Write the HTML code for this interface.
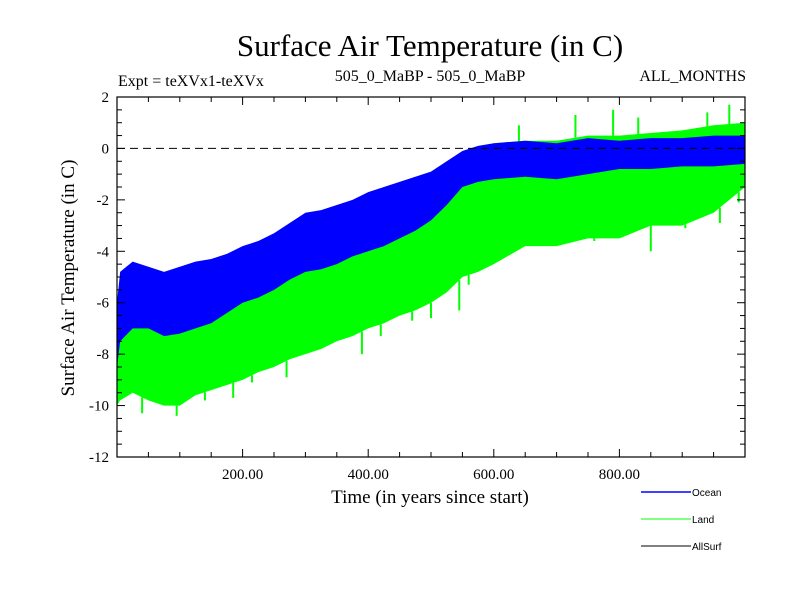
<!DOCTYPE html>
<html><head><meta charset="utf-8"><style>
body{margin:0;background:#fff;}
svg text{font-family:"Liberation Serif",serif;}
</style></head><body>
<svg id="c" width="800" height="600" xmlns="http://www.w3.org/2000/svg">
<text x="430" y="56" font-size="31" text-anchor="middle">Surface Air Temperature (in C)</text>
<text x="118" y="86" font-size="16">Expt = teXVx1-teXVx</text>
<text x="430" y="81" font-size="16" text-anchor="middle">505_0_MaBP - 505_0_MaBP</text>
<text x="746" y="81" font-size="16" text-anchor="end">ALL_MONTHS</text>
<text transform="translate(74,278) rotate(-90)" font-size="19" text-anchor="middle">Surface Air Temperature (in C)</text>
<text x="430" y="503" font-size="19" text-anchor="middle">Time (in years since start)</text>
<g id="plot"></g>
</svg>
<script>
const years=[0,5,25,50,75,100,125,150,175,200,225,250,275,300,325,350,375,400,425,450,475,500,525,550,575,600,650,700,750,800,850,900,950,1000];
const oceanLow=[-8.5,-7.5,-7,-7,-7.3,-7.2,-7,-6.8,-6.4,-6,-5.8,-5.5,-5.1,-4.8,-4.7,-4.5,-4.2,-4,-3.8,-3.5,-3.2,-2.8,-2.2,-1.5,-1.3,-1.2,-1.1,-1.2,-1,-0.8,-0.8,-0.7,-0.7,-0.6];
const oceanHigh=[-6,-4.8,-4.4,-4.6,-4.8,-4.6,-4.4,-4.3,-4.1,-3.8,-3.6,-3.3,-2.9,-2.5,-2.4,-2.2,-2,-1.7,-1.5,-1.3,-1.1,-0.9,-0.5,-0.1,0.1,0.2,0.3,0.2,0.4,0.3,0.4,0.4,0.5,0.5];
const landLow=[-10,-9.8,-9.5,-9.8,-10,-10,-9.6,-9.4,-9.2,-9,-8.7,-8.5,-8.2,-8,-7.8,-7.5,-7.3,-7,-6.8,-6.5,-6.3,-6,-5.6,-5,-4.8,-4.5,-3.8,-3.8,-3.5,-3.5,-3,-3,-2.5,-1.5];
const landHigh=[-6.3,-5.8,-4.5,-4.7,-4.9,-4.7,-4.5,-4.4,-4.2,-3.9,-3.7,-3.4,-3,-2.6,-2.5,-2.3,-2.1,-1.8,-1.6,-1.4,-1.2,-1,-0.6,-0.2,0,0.2,0.3,0.3,0.5,0.5,0.6,0.7,0.9,1.0];
const spikeYears=[40,95,140,185,215,270,295,390,420,470,500,545,560,590,640,700,730,760,790,830,850,880,905,940,960,975,990];
const spikeValues=[-10.3,-10.4,-9.8,-9.7,-9.1,-8.9,-4.1,-8,-7.3,-6.7,-6.6,-6.3,-5.3,-4.4,0.9,-3.7,1.3,-3.6,1.5,1.2,-4,0.4,-3.1,1.4,-2.9,1.7,-2.1];
const yTicks=[2,0,-2,-4,-6,-8,-10,-12];
const xTicks=[200,400,600,800];
const L=117,R=745,T=97,B=457,ymax=2,ymin=-12,xmax=1000;
const X=v=>L+(v/xmax)*(R-L);
const Y=v=>T+(ymax-v)/(ymax-ymin)*(B-T);
const NS='http://www.w3.org/2000/svg';
const g=document.getElementById('plot');
function mk(t,a){const e=document.createElementNS(NS,t);for(const k in a)e.setAttribute(k,a[k]);g.appendChild(e);return e;}
function band(lo,hi,col){
  let p=years.map((y,i)=>X(y)+','+Y(hi[i]));
  for(let i=years.length-1;i>=0;i--)p.push(X(years[i])+','+Y(lo[i]));
  return mk('polygon',{points:p.join(' '),fill:col});
}
const land=band(landLow,landHigh,'#00ff00');


function interp(arr,yr){for(let i=1;i<years.length;i++){if(yr<=years[i]){const f=(yr-years[i-1])/(years[i]-years[i-1]);return arr[i-1]+f*(arr[i]-arr[i-1]);}}return arr[arr.length-1];}
spikeYears.forEach((yr,i)=>{const v=spikeValues[i];const base=v<interp(landLow,yr)?interp(landLow,yr):interp(landHigh,yr);
  const s=mk('line',{x1:X(yr),x2:X(yr),y1:Y(base),y2:Y(v),stroke:'#00ff00','stroke-width':2});
  
  });
const ocean=band(oceanLow,oceanHigh,'#0000ff');


const zl=mk('line',{x1:L,x2:R,y1:Y(0),y2:Y(0),stroke:'#000','stroke-dasharray':'8,5','stroke-width':1});


const fr=mk('rect',{x:L,y:T,width:R-L,height:B-T,fill:'none',stroke:'#000','stroke-width':1.2});


for(let v=ymin;v<=ymax;v+=0.5){const len=(v%2===0)?8:5;
  mk('line',{x1:L,x2:L+len,y1:Y(v),y2:Y(v),stroke:'#000'});
  mk('line',{x1:R,x2:R-len,y1:Y(v),y2:Y(v),stroke:'#000'});}
for(let v=50;v<xmax;v+=50){const len=(v%200===0)?8:5;
  mk('line',{x1:X(v),x2:X(v),y1:B,y2:B-len,stroke:'#000'});
  mk('line',{x1:X(v),x2:X(v),y1:T,y2:T+len,stroke:'#000'});}
yTicks.forEach(v=>{const t=mk('text',{x:L-8,y:Y(v)+5,'font-size':15,'text-anchor':'end'});t.textContent=v;
  
  });
xTicks.forEach(v=>{const t=mk('text',{x:X(v),y:B+22,'font-size':15,'text-anchor':'middle'});t.textContent=v.toFixed(2);
  
  });
const leg=[['Ocean','#0000ff',492,1.5],['Land','#00ff00',519,1],['AllSurf','#000',546,1]];
leg.forEach(([n,c,y,w])=>{
  const l=mk('line',{x1:641,x2:691,y1:y,y2:y,stroke:c,'stroke-width':w});
  
  
  const t=mk('text',{x:692,y:y+4,'font-size':10,style:'font-family:"Liberation Sans",sans-serif'});t.textContent=n;
  
  });
</script>
</body></html>
